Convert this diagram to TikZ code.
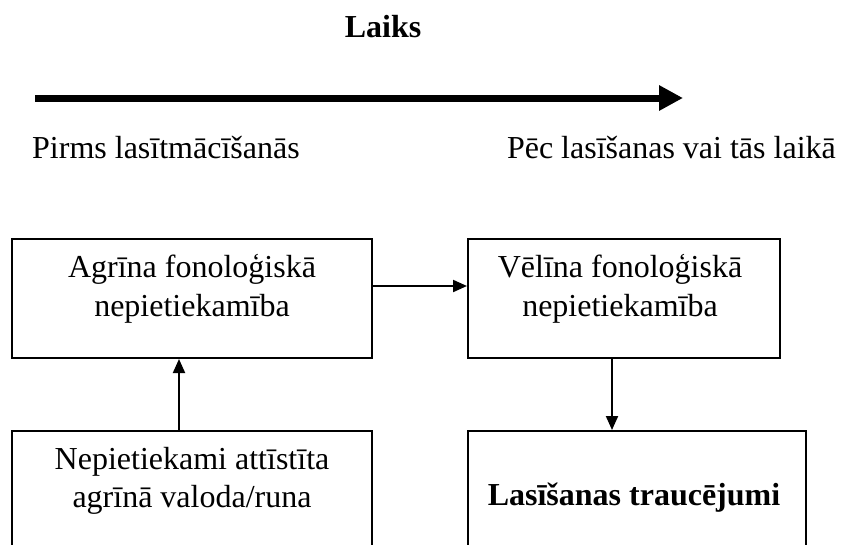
\documentclass[tikz,border=0pt]{standalone}
\usepackage{fontspec}
\setmainfont{Liberation Serif}
\usetikzlibrary{arrows.meta}
\begin{document}
\begin{tikzpicture}[x=1pt,y=-1pt,
  txt/.style={font=\fontsize{32}{38.5}\selectfont, inner sep=0pt, align=center},
  box/.style={draw, line width=2pt, minimum width=#1, inner sep=0pt, anchor=north west},
  link/.style={line width=2pt, -{Triangle[length=14pt,width=12pt]}}
]
\useasboundingbox (0,0) rectangle (843,544);

% time axis
\node[txt, font=\fontsize{32}{38.5}\selectfont\bfseries, anchor=base] (laiks) at (383,37) {Laiks};
\coordinate (tstart) at (35,98);
\coordinate (tend) at (683,98);
\draw[line width=7pt, -{Triangle[length=24pt,width=24pt]}] (tstart) -- (tend);
\node[txt, anchor=base west] (before) at (32,158) {Pirms lasītmācīšanās};
\node[txt, anchor=base east] (after) at (836,158) {Pēc lasīšanas vai tās laikā};

% boxes
\node[box=360pt, minimum height=119pt] (early) at (11,238) {};
\node[box=312pt, minimum height=119pt] (late) at (467,238) {};
\node[box=360pt, minimum height=140pt] (lang) at (11,430) {};
\node[box=338pt, minimum height=140pt] (dis) at (467,430) {};

% box texts
\node[txt, anchor=base] (earlyA) at (192,277) {Agrīna fonoloģiskā};
\node[txt, anchor=base] (earlyB) at (192,316) {nepietiekamība};
\node[txt, anchor=base] (lateA) at (620,277) {Vēlīna fonoloģiskā};
\node[txt, anchor=base] (lateB) at (620,316) {nepietiekamība};
\node[txt, anchor=base] (langA) at (192,469) {Nepietiekami attīstīta};
\node[txt, anchor=base] (langB) at (192,507) {agrīnā valoda/runa};
\node[txt, anchor=base, font=\fontsize{32}{38.5}\selectfont\bfseries] (disA) at (634,505) {Lasīšanas traucējumi};

% connectors
\draw[link] (early.east |- 0,286) -- (late.west |- 0,286);
\draw[link] (lang.north -| 179,0) -- (early.south -| 179,0);
\draw[link] (late.south -| 612,0) -- (dis.north -| 612,0);
\end{tikzpicture}
\end{document}
